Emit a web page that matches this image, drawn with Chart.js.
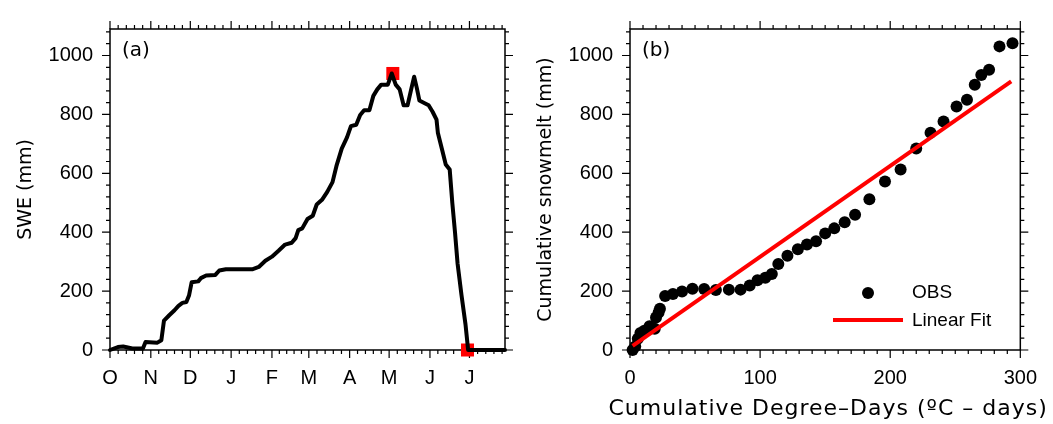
<!DOCTYPE html>
<html>
<head>
<meta charset="utf-8">
<script src="https://cdn.jsdelivr.net/npm/chart.js@4.4.1/dist/chart.umd.min.js"></script>
<style>
body { margin: 0; background: #fff; width: 1053px; height: 424px; overflow: hidden; position: relative; }
#chartA { position: absolute; left: 0; top: 0; }
#chartB { position: absolute; left: 520px; top: 0; }
</style>
</head>
<body>
<canvas id="chartA" width="520" height="424"></canvas>
<canvas id="chartB" width="533" height="424"></canvas>
<script>
// (a) SWE, x = days after 1 Oct
var sweDay = [0, 6, 10, 17, 25, 27, 36, 39, 41, 45, 49, 52, 55, 58, 60, 62, 67, 69, 73, 80, 83, 88, 108, 113, 118, 123, 128, 133, 138, 141, 143, 146, 150, 154, 157, 161, 165, 169, 172, 176, 180, 183, 187, 190, 193, 197, 200, 203, 206, 211, 214, 217, 220, 223, 226, 229, 231, 233, 235, 239, 242, 245, 248, 249, 252, 255, 258, 260, 262, 264, 267, 270, 272, 300];
var sweVal = [0, 10, 12, 5, 5, 27, 25, 33, 100, 118, 135, 150, 160, 163, 185, 230, 233, 244, 253, 255, 270, 274, 274, 282, 303, 317, 337, 358, 364, 380, 407, 413, 445, 456, 494, 510, 537, 570, 625, 684, 722, 760, 765, 798, 814, 814, 863, 885, 901, 901, 939, 901, 885, 831, 831, 890, 928, 890, 847, 838, 831, 809, 782, 738, 684, 630, 613, 499, 401, 293, 185, 87, 0, 0];
var markDay = [214.8, 271.5];
var markVal = [939, 0];
var monthStart = [0, 31, 61, 92, 123, 151, 182, 212, 243, 273, 304];
var monthLbl = ["O", "N", "D", "J", "F", "M", "A", "M", "J", "J"];
var yMajor = [0, 200, 400, 600, 800, 1000];

// (b) cumulative degree-days vs cumulative snowmelt
var ddX = [2, 4, 6, 8, 11, 15, 19, 20, 22, 23, 27, 33, 40, 48, 57, 66, 76, 85, 92, 98, 104, 109, 114, 121, 129, 136, 143, 150, 157, 165, 173, 184, 196, 208, 220, 231, 241, 251, 259, 265, 270, 276, 284, 294];
var meltY = [0, 12, 38, 58, 65, 81, 72, 110, 127, 140, 183, 190, 199, 208, 207, 204, 205, 205, 219, 237, 245, 258, 292, 320, 342, 358, 369, 396, 413, 434, 459, 512, 572, 613, 684, 738, 776, 827, 850, 901, 934, 952, 1031, 1042];
var fitX = [2, 293];
var fitY = [14, 912];
var xMajorB = [0, 100, 200, 300];
var xTitleB = 'Cumulative Degree\u2013Days (\u00baC \u2013 days)';

var yMinor = [];
for (var v = 0; v <= 1080; v += 40) yMinor.push(v);
var xMinorA = [];
for (var i = 0; i < monthStart.length - 1; i++) {
    var L = monthStart[i + 1] - monthStart[i];
    for (var k = 0; k < 5; k++) xMinorA.push(monthStart[i] + k * L / 5);
}
var xMinorB = [];
for (v = 0; v <= 300; v += 10) xMinorB.push(v);

var tickFont = { family: '"Liberation Sans", Arial, sans-serif', size: 20 };
var titleFont = { family: '"DejaVu Sans", sans-serif', size: 19 };

// box + outward ticks on all four sides + panel letter
var framePlugin = {
    id: 'frame',
    beforeDatasetsDraw: function(chart, args, o) {
        var ctx = chart.ctx, a = chart.chartArea, sx = chart.scales.x, sy = chart.scales.y;
        ctx.save();
        ctx.strokeStyle = '#000';
        ctx.lineWidth = 1.5;
        ctx.strokeRect(a.left, a.top, a.right - a.left, a.bottom - a.top);
        ctx.lineWidth = 1.2;
        ctx.beginPath();
        function xt(vals, len) {
            vals.forEach(function(val) {
                var p = sx.getPixelForValue(val);
                if (p < a.left - 0.5 || p > a.right + 0.5) return;
                ctx.moveTo(p, a.bottom); ctx.lineTo(p, a.bottom + len);
                ctx.moveTo(p, a.top); ctx.lineTo(p, a.top - len);
            });
        }
        function yt(vals, len) {
            vals.forEach(function(val) {
                var p = sy.getPixelForValue(val);
                if (p < a.top - 0.5 || p > a.bottom + 0.5) return;
                ctx.moveTo(a.left, p); ctx.lineTo(a.left - len, p);
                ctx.moveTo(a.right, p); ctx.lineTo(a.right + len, p);
            });
        }
        xt(o.xMinor, 4); xt(o.xMajor, 8);
        yt(yMinor, 4); yt(yMajor, 8);
        ctx.stroke();
        ctx.fillStyle = '#000';
        ctx.font = '20px "DejaVu Sans"';
        ctx.textBaseline = 'middle';
        ctx.fillText(o.label, a.left + 12, a.top + 22);
        if (o.xTitle) {
            // wider than the plot, so drawn here instead of the scale title (no maxWidth squeeze)
            ctx.font = '22px "DejaVu Sans"';
            ctx.letterSpacing = '1px';
            ctx.textAlign = 'center';
            ctx.fillText(o.xTitle, (a.left + a.right) / 2 + 3, 409);
        }
        ctx.restore();
    }
};

var legendPlugin = {
    id: 'obsLegend',
    afterDraw: function(chart) {
        var ctx = chart.ctx, a = chart.chartArea;
        ctx.save();
        ctx.fillStyle = '#000';
        ctx.beginPath();
        ctx.arc(a.left + 238, 293, 6, 0, Math.PI * 2);
        ctx.fill();
        ctx.strokeStyle = '#f00';
        ctx.lineWidth = 4;
        ctx.beginPath();
        ctx.moveTo(a.left + 203, 320); ctx.lineTo(a.left + 273, 320);
        ctx.stroke();
        ctx.font = '19px "Liberation Sans"';
        ctx.textBaseline = 'middle';
        ctx.fillText('OBS', a.left + 282, 293);
        ctx.fillText('Linear Fit', a.left + 282, 321);
        ctx.restore();
    }
};

function yScale(title) {
    return {
        type: 'linear', min: 0, max: 1090,
        grid: { display: false, drawTicks: false }, border: { display: false },
        afterBuildTicks: function(s) { s.ticks = yMajor.map(function(t) { return { value: t }; }); },
        afterFit: function(s) { s.width = 110; },
        ticks: { padding: 17, color: '#000', font: tickFont, callback: function(val) { return String(val); } },
        title: { display: true, text: title, color: '#000', font: titleFont, padding: { top: 15, bottom: 0 } }
    };
}

new Chart(document.getElementById('chartA'), {
    type: 'line',
    data: {
        datasets: [{
            data: sweDay.map(function(d, i) { return { x: d, y: sweVal[i] }; }),
            borderColor: '#000', borderWidth: 4, pointRadius: 0, tension: 0,
            borderJoinStyle: 'round', borderCapStyle: 'round', clip: false
        }, {
            data: markDay.map(function(d, i) { return { x: d, y: markVal[i] }; }),
            showLine: false, pointStyle: 'rect', pointRadius: 9.2,
            backgroundColor: '#f00', borderWidth: 0, clip: false
        }]
    },
    options: {
        responsive: false, animation: false,
        layout: { padding: { top: 15, right: 15, left: 0, bottom: 0 } },
        plugins: { legend: { display: false }, tooltip: { enabled: false },
            frame: { label: '(a)', xMajor: monthStart, xMinor: xMinorA } },
        scales: {
            x: {
                type: 'linear', min: 0, max: 300,
                grid: { display: false, drawTicks: false }, border: { display: false },
                afterBuildTicks: function(s) { s.ticks = monthStart.slice(0, 10).map(function(t) { return { value: t }; }); },
                afterFit: function(s) { s.height = 74; },
                ticks: { autoSkip: false, maxRotation: 0, padding: 16, color: '#000', font: tickFont,
                    callback: function(val, idx) { return monthLbl[idx]; } }
            },
            y: yScale('SWE (mm)')
        }
    },
    plugins: [framePlugin]
});

new Chart(document.getElementById('chartB'), {
    type: 'scatter',
    data: {
        datasets: [{
            data: fitX.map(function(d, i) { return { x: d, y: fitY[i] }; }),
            showLine: true, borderColor: '#f00', borderWidth: 4, pointRadius: 0, clip: false
        }, {
            data: ddX.map(function(d, i) { return { x: d, y: meltY[i] }; }),
            pointRadius: 6, backgroundColor: '#000', borderWidth: 0, clip: false
        }]
    },
    options: {
        responsive: false, animation: false,
        layout: { padding: { top: 15, right: 27, left: 0, bottom: 0 } },
        plugins: { legend: { display: false }, tooltip: { enabled: false },
            frame: { label: '(b)', xMajor: xMajorB, xMinor: xMinorB, xTitle: xTitleB } },
        scales: {
            x: {
                type: 'linear', min: 0, max: 300,
                grid: { display: false, drawTicks: false }, border: { display: false },
                afterBuildTicks: function(s) { s.ticks = xMajorB.map(function(t) { return { value: t }; }); },
                afterFit: function(s) { s.height = 74; },
                ticks: { autoSkip: false, maxRotation: 0, padding: 16, color: '#000', font: tickFont,
                    callback: function(val) { return String(val); } }
            },
            y: yScale('Cumulative snowmelt (mm)')
        }
    },
    plugins: [framePlugin, legendPlugin]
});
</script>
</body>
</html>
